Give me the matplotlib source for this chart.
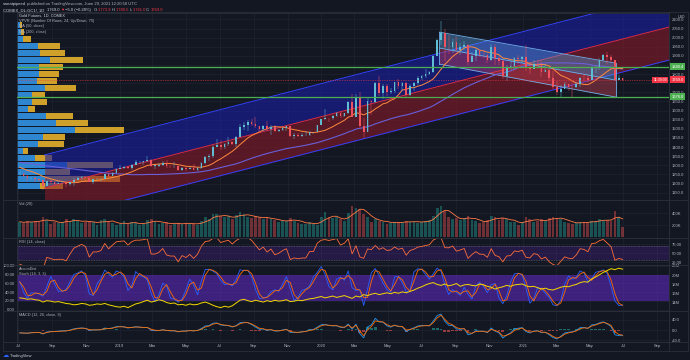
import numpy as np
import pandas as pd
import matplotlib
matplotlib.use("Agg")
import matplotlib.pyplot as plt
import matplotlib.dates as mdates
from matplotlib.patches import Rectangle
from matplotlib.lines import Line2D
from matplotlib.transforms import blended_transform_factory
from matplotlib.ticker import FuncFormatter

plt.rcParams['font.family'] = ['Liberation Sans', 'DejaVu Sans']

# ---------------- data ----------------
week_start = '2018-07-04'
first_open = 1253
warmup_close = [1322, 1338, 1333, 1350, 1337, 1315, 1356, 1330, 1323, 1324, 1313, 1349, 1327,
                1335, 1347, 1338, 1323, 1314, 1320, 1291, 1303, 1298, 1302, 1279, 1270, 1254]
close = [1255, 1241, 1231, 1232, 1223, 1219, 1184, 1213, 1206, 1200, 1201, 1201, 1196, 1207, 1222, 1229, 1236, 1233, 1210, 1223, 1223, 1226, 1252, 1241, 1258, 1282,
         1286, 1290, 1283, 1304, 1318, 1318, 1322, 1331, 1299, 1299, 1303, 1314, 1298, 1295, 1295, 1276, 1288, 1282, 1288, 1277, 1285, 1311, 1346, 1352, 1400, 1413,
         1400, 1416, 1428, 1419, 1457, 1509, 1523, 1537, 1529, 1515, 1499, 1515, 1497, 1512, 1488, 1494, 1505, 1513, 1462, 1468, 1463, 1465, 1465, 1481, 1481, 1519,
         1552, 1562, 1560, 1571, 1587, 1573, 1586, 1649, 1566, 1674, 1516, 1484, 1654, 1645, 1752, 1698, 1735, 1700, 1708, 1756, 1735, 1751, 1683, 1737, 1753, 1781,
         1790, 1801, 1810, 1897, 1986, 2028, 1949, 1947, 1975, 1934, 1947, 1962, 1866, 1900, 1930, 1906, 1905, 1879, 1951, 1886, 1872, 1788, 1840, 1843, 1888, 1883,
         1895, 1835, 1829, 1856, 1850, 1814, 1823, 1776, 1729, 1700, 1721, 1745, 1732, 1729, 1744, 1780, 1777, 1768, 1832, 1838, 1877, 1905, 1892, 1878, 1769, 1781, 1769]
high = [1263, 1262, 1245, 1238, 1236, 1224, 1222, 1216, 1218, 1210, 1212, 1212, 1208, 1209, 1233, 1234, 1243, 1240, 1242, 1226, 1232, 1231, 1253, 1256, 1265, 1285,
        1302, 1298, 1297, 1305, 1330, 1323, 1325, 1349, 1333, 1302, 1311, 1323, 1327, 1301, 1320, 1296, 1291, 1290, 1291, 1306, 1289, 1316, 1350, 1361, 1413, 1442,
        1440, 1422, 1453, 1433, 1460, 1525, 1535, 1547, 1555, 1566, 1514, 1522, 1542, 1519, 1519, 1499, 1511, 1518, 1515, 1475, 1477, 1475, 1489, 1486, 1485, 1520,
        1553, 1611, 1562, 1574, 1591, 1593, 1589, 1650, 1691, 1692, 1704, 1557, 1669, 1660, 1755, 1788, 1748, 1747, 1723, 1757, 1775, 1755, 1757, 1745, 1756, 1790,
        1797, 1828, 1818, 1906, 1992, 2089, 2050, 2015, 1990, 2001, 1973, 1983, 1963, 1921, 1935, 1933, 1933, 1910, 1965, 1965, 1900, 1875, 1848, 1877, 1896, 1907,
        1900, 1959, 1865, 1875, 1875, 1875, 1855, 1827, 1815, 1760, 1740, 1755, 1745, 1740, 1759, 1785, 1798, 1790, 1845, 1852, 1890, 1913, 1919, 1903, 1879, 1795, 1780]
low = [1241, 1237, 1212, 1221, 1211, 1208, 1167, 1184, 1199, 1191, 1196, 1196, 1183, 1187, 1187, 1218, 1221, 1214, 1208, 1196, 1218, 1213, 1224, 1238, 1239, 1256,
       1280, 1282, 1280, 1276, 1300, 1305, 1301, 1320, 1293, 1281, 1290, 1298, 1286, 1285, 1288, 1271, 1267, 1267, 1280, 1275, 1270, 1282, 1310, 1322, 1340, 1400,
       1384, 1392, 1405, 1414, 1400, 1456, 1494, 1490, 1518, 1505, 1485, 1490, 1486, 1465, 1482, 1480, 1487, 1486, 1456, 1445, 1458, 1454, 1460, 1462, 1473, 1481,
       1520, 1550, 1536, 1547, 1567, 1561, 1564, 1582, 1564, 1575, 1504, 1451, 1482, 1576, 1640, 1682, 1666, 1680, 1691, 1696, 1720, 1706, 1671, 1681, 1708, 1743,
       1767, 1778, 1795, 1806, 1900, 1961, 1874, 1911, 1914, 1921, 1906, 1932, 1851, 1871, 1874, 1893, 1890, 1859, 1870, 1848, 1851, 1775, 1764, 1820, 1824, 1855,
       1862, 1817, 1803, 1828, 1834, 1785, 1810, 1761, 1717, 1687, 1673, 1717, 1705, 1677, 1724, 1731, 1764, 1756, 1768, 1808, 1822, 1874, 1856, 1864, 1761, 1766, 1761]
volume_k = [260, 240, 270, 250, 280, 260, 330, 290, 230, 250, 240, 260, 300, 250, 310, 270, 240, 260, 280, 250, 200, 290, 300, 260, 240, 200,
            230, 270, 220, 250, 240, 200, 230, 290, 300, 250, 220, 240, 250, 210, 230, 240, 220, 240, 230, 220, 210, 280, 330, 300, 390, 380,
            350, 330, 360, 300, 370, 420, 380, 330, 320, 360, 330, 300, 330, 310, 290, 250, 270, 280, 320, 280, 240, 230, 220, 260, 220, 210,
            330, 420, 330, 320, 330, 300, 270, 400, 520, 480, 470, 380, 330, 250, 300, 280, 250, 230, 240, 260, 250, 240, 280, 260, 260, 240,
            260, 280, 290, 360, 480, 520, 430, 340, 300, 320, 290, 320, 360, 290, 270, 240, 260, 290, 350, 330, 290, 320, 300, 260, 260, 200,
            250, 340, 300, 260, 270, 300, 280, 320, 330, 320, 310, 260, 240, 230, 240, 260, 250, 240, 280, 270, 300, 280, 290, 280, 440, 330, 180]
accum_dist_m = [15.1, 15.0, 14.8, 14.9, 14.7, 14.6, 14.2, 14.5, 14.4, 14.2, 14.3, 14.1, 13.9, 13.8, 13.6, 13.7, 13.9, 13.8, 13.5, 13.6, 13.8, 13.7, 13.9, 13.6, 13.4, 13.2,
                13.1, 13.3, 13.0, 13.4, 13.8, 14.0, 14.3, 14.6, 14.2, 14.4, 14.7, 14.5, 14.1, 13.9, 14.0, 13.6, 13.7, 13.5, 13.8, 13.6, 13.7, 14.0, 14.2, 13.9, 13.5, 13.2,
                13.0, 13.3, 13.1, 13.4, 14.0, 14.6, 14.8, 14.5, 14.3, 14.6, 14.4, 14.2, 14.5, 14.3, 14.6, 14.4, 14.5, 14.7, 14.3, 14.4, 14.6, 14.5, 14.7, 14.9, 15.0, 15.2,
                15.4, 15.1, 15.3, 15.5, 15.2, 15.4, 15.6, 15.3, 15.0, 15.5, 15.3, 15.8, 15.6, 15.9, 16.1, 15.8, 16.0, 16.2, 16.0, 16.3, 16.1, 16.4, 16.2, 16.5, 16.8, 17.2,
                17.5, 17.9, 18.2, 18.4, 18.0, 17.8, 18.1, 17.7, 17.9, 18.2, 17.6, 17.9, 18.0, 17.8, 17.7, 18.1, 17.9, 17.6, 17.4, 17.0, 17.3, 17.5, 17.8, 17.6, 17.9, 18.0,
                18.1, 17.7, 17.5, 17.6, 17.3, 17.0, 17.2, 16.9, 16.8, 17.1, 17.4, 17.6, 17.5, 17.8, 18.0, 18.4, 18.6, 18.5, 19.2, 19.6, 20.1, 20.6, 21.0, 21.4, 21.2, 21.5, 21.3]

vp_range = [1167, 2089]
vp_up = [23, 28, 28, 50, 18, 6, 21, 26, 58, 39, 29, 11, 15, 15, 28, 20, 22, 22, 33, 23, 21, 6, 4, 3]
vp_down = [23, 75, 25, 46, 17, 5, 26, 22, 49, 32, 27, 7, 15, 13, 31, 20, 20, 24, 33, 25, 22, 8, 3, 2]

channel_dates = ['2018-08-18', '2021-09-22']
channel_mid = [1176, 2058]
channel_width = 181
small_dates = ['2020-08-02', '2021-06-18']
small_top = [2030, 1860]
small_mid = [1943, 1767]
small_bot = [1855, 1674]
support_levels = [1840.4, 1676.0]
last_price = 1769.0

price_ticks = list(range(1150, 2101, 50))
hidden_ticks = [1750, 1850]
month_ticks = [1, 3, 5, 7, 9, 11]
x_range = ['2018-06-29', '2021-09-22']

# ---------------- style ----------------
W, H = 690, 360
BG = '#131722'
TXT = '#b2b5be'
GRID = '#1f2330'
BORDER = '#2a2e39'
UP = '#5fbcd3'
DN = '#ef5360'

fig = plt.figure(figsize=(6.9, 3.6), dpi=100, facecolor=BG)


def axes_px(x0, y0, x1, y1):
    return fig.add_axes([x0 / W, 1 - y1 / H, (x1 - x0) / W, (y1 - y0) / H])


def ftext(x, y, s, **kw):
    kw.setdefault('color', TXT)
    kw.setdefault('fontsize', 2.8)
    kw.setdefault('va', 'center')
    kw.setdefault('ha', 'left')
    return fig.text(x / W, 1 - y / H, s, **kw)


xl = mdates.date2num(pd.to_datetime(x_range).to_pydatetime())


def month_fmt(v, pos):
    d = mdates.num2date(v)
    return str(d.year) if d.month == 1 else d.strftime('%b')


def style(ax, show_x=False):
    ax.set_facecolor(BG)
    for sp in ax.spines.values():
        sp.set_color(BORDER)
        sp.set_linewidth(0.6)
    ax.yaxis.tick_right()
    ax.tick_params(axis='both', length=0, labelsize=3.0, colors=TXT, pad=2)
    ax.set_xlim(xl[0], xl[1])
    ax.xaxis.set_major_locator(mdates.MonthLocator(bymonth=month_ticks))
    ax.xaxis.set_major_formatter(FuncFormatter(month_fmt))
    ax.grid(True, axis='both', color=GRID, lw=0.5)
    ax.set_axisbelow(True)
    if not show_x:
        ax.tick_params(axis='x', labelbottom=False)


main = axes_px(17, 13, 669, 200)
vol = axes_px(17, 200, 669, 238)
rsi_ax = axes_px(17, 238, 669, 265)
sto = axes_px(17, 265, 669, 311)
macd_ax = axes_px(17, 311, 669, 342)
for a in (main, vol, rsi_ax, sto):
    style(a)
style(macd_ax, show_x=True)
macd_ax.tick_params(axis='x', pad=1.5)

# ---------------- derived series ----------------
d = mdates.date2num(pd.date_range(week_start, periods=len(close), freq='7D').to_pydatetime())
c = np.array(close, float)
hi = np.array(high, float)
lo = np.array(low, float)
o = np.r_[first_open, c[:-1]]
nw = len(warmup_close)
s_ext = pd.Series(np.r_[warmup_close, c])
ma50 = s_ext.rolling(10, min_periods=1).mean().values[nw:]
ma200 = s_ext.rolling(40, min_periods=1).mean().values[nw:]

a12 = 1 - (1 - 2 / 13) ** 5
a26 = 1 - (1 - 2 / 27) ** 5
a9 = 1 - (1 - 2 / 10) ** 5
macd_line = s_ext.ewm(alpha=a12, adjust=False).mean() - s_ext.ewm(alpha=a26, adjust=False).mean()
signal = macd_line.ewm(alpha=a9, adjust=False).mean()
macd_v = macd_line.values[nw:]
sig_v = signal.values[nw:]
hist_v = macd_v - sig_v

delta = s_ext.diff()
ar = 0.2
gain = delta.clip(lower=0).ewm(alpha=ar, adjust=False).mean()
loss = (-delta.clip(upper=0)).ewm(alpha=ar, adjust=False).mean()
rsi_v = (100 - 100 / (1 + gain / loss)).values[nw:]

hh = pd.Series(hi).rolling(3, min_periods=1).max()
ll = pd.Series(lo).rolling(3, min_periods=1).min()
k_raw = (pd.Series(c) - ll) / (hh - ll) * 100
k_v = k_raw.rolling(2, min_periods=1).mean()
d_v = k_v.rolling(2, min_periods=1).mean()

v = np.array(volume_k, float)
v_ma = pd.Series(v).rolling(4, min_periods=1).mean().values

# ---------------- main panel ----------------
main.set_ylim(1110, 2135)
main.set_yticks(price_ticks)
main.yaxis.set_major_formatter(FuncFormatter(lambda val, p: '' if round(val) in hidden_ticks else f'{val:.1f}'))

# volume profile
trans_vp = blended_transform_factory(main.transAxes, main.transData)
edges = np.linspace(vp_range[0], vp_range[1], len(vp_up) + 1)
rowh = edges[1] - edges[0]
for i in range(len(vp_up)):
    y0 = edges[i] + rowh * 0.08
    hgt = rowh * 0.84
    main.add_patch(Rectangle((0, y0), vp_up[i] / 652, hgt, transform=trans_vp,
                             facecolor='#2d86cf', edgecolor='none', zorder=1))
    main.add_patch(Rectangle((vp_up[i] / 652, y0), vp_down[i] / 652, hgt, transform=trans_vp,
                             facecolor='#cfa12a', edgecolor='none', zorder=1))

# regression channel
cd = mdates.date2num(pd.to_datetime(channel_dates).to_pydatetime())
cm = np.array(channel_mid, float)
main.fill_between(cd, cm, cm + channel_width, color='#1a1fa0', alpha=0.62, lw=0, zorder=2)
main.fill_between(cd, cm - channel_width, cm, color='#8b1a2a', alpha=0.58, lw=0, zorder=2)
main.plot(cd, cm + channel_width, color='#3040ff', lw=0.7, zorder=2.5)
main.plot(cd, cm, color='#e0293a', lw=0.7, zorder=2.5)
main.plot(cd, cm - channel_width, color='#3040ff', lw=0.7, zorder=2.5)

# small descending channel
sd = mdates.date2num(pd.to_datetime(small_dates).to_pydatetime())
st, sm, sb = np.array(small_top, float), np.array(small_mid, float), np.array(small_bot, float)
main.fill_between(sd, sm, st, color='#5a9ee0', alpha=0.42, lw=0, zorder=3)
main.fill_between(sd, sb, sm, color='#d9455a', alpha=0.38, lw=0, zorder=3)
for arr in (st, sm, sb):
    main.plot(sd, arr, color='#6fb0ea', lw=0.6, zorder=3.5)
for j in (0, 1):
    main.plot([sd[j], sd[j]], [sb[j], st[j]], color='#6fb0ea', lw=0.6, zorder=3.5)

# moving averages
main.plot(d, ma200, color='#6a5fd8', lw=0.8, zorder=4)
main.plot(d, ma50, color='#ff8a3d', lw=0.7, zorder=4)

# candles
upm = c >= o
col = np.where(upm, UP, DN)
main.vlines(d, np.minimum(lo, np.minimum(o, c)), np.maximum(hi, np.maximum(o, c)), colors=col, lw=0.35, zorder=5)
main.bar(d, np.maximum(np.abs(c - o), 2.0), bottom=np.minimum(o, c), width=3.0, color=col, lw=0, zorder=5)

# horizontal levels
for lv in support_levels:
    main.axhline(lv, color='#4caf50', lw=0.9, zorder=6)
    main.text(1.004, lv, f'{lv:.1f}', transform=trans_vp, fontsize=2.9, color='white', va='center', ha='left',
              bbox=dict(boxstyle='square,pad=0.35', fc='#4caf50', ec='none'), zorder=10, clip_on=False)
main.axhline(last_price, color='#f23645', lw=0.5, ls=(0, (1, 1.5)), zorder=6)
main.text(1.004, last_price, f'{last_price:.1f}', transform=trans_vp, fontsize=2.9, color='white', va='center',
          ha='left', bbox=dict(boxstyle='square,pad=0.35', fc='#f23645', ec='none'), zorder=10, clip_on=False)
main.text(0.997, last_price, '11:39:09', transform=trans_vp, fontsize=2.6, color='white', va='center',
          ha='right', bbox=dict(boxstyle='square,pad=0.35', fc='#f23645', ec='none'), zorder=10)

# ---------------- volume ----------------
vol.set_ylim(-10, 620)
vol.set_yticks([200, 400])
vol.set_yticklabels(['200K', '400K'])
vol.bar(d, v, width=5, color=np.where(upm, '#26a69a', '#ef5350'), alpha=0.42, lw=0)
vol.plot(d, v_ma, color='#ff7a45', lw=0.6)

# ---------------- RSI ----------------
rsi_ax.set_ylim(16.7, 91.7)
rsi_ax.set_yticks([25, 50, 75])
rsi_ax.set_yticklabels(['25.00', '50.00', '75.00'])
rsi_ax.axhspan(30, 70, color='#6a2bd6', alpha=0.2, lw=0)
for lv in (30, 70):
    rsi_ax.axhline(lv, color='#787b86', lw=0.4, ls=(0, (1.5, 1.5)))
rsi_ax.plot(d, rsi_v, color='#ff6d3a', lw=0.6)

# ---------------- Stoch + AccumDist ----------------
sto.set_ylim(-3, 102)
sto.yaxis.tick_left()
sto.tick_params(axis='y', pad=1.5)
sto.set_yticks([0, 20, 40, 60, 80, 100])
sto.set_yticklabels(['0.00', '20.00', '40.00', '60.00', '80.00', '100.00'])
sto.axhspan(20, 80, color='#6a2bd6', alpha=0.5, lw=0)
sto.plot(d, k_v, color='#2962ff', lw=0.6)
sto.plot(d, d_v, color='#ff6d00', lw=0.6)
ad_ax = sto.twinx()
ad_ax.set_facecolor('none')
for sp in ad_ax.spines.values():
    sp.set_visible(False)
ad_ax.set_ylim(12.27, 22.2)
ad_ax.set_yticks([14, 16, 18, 20, 22])
ad_ax.set_yticklabels(['14M', '16M', '18M', '20M', '22M'])
ad_ax.tick_params(axis='y', length=0, labelsize=3.0, colors=TXT, pad=2)
ad_ax.set_xlim(xl[0], xl[1])
ad_ax.plot(d, accum_dist_m, color='#f5d800', lw=0.7)

# ---------------- MACD ----------------
macd_ax.set_ylim(-46.6, 73.8)
macd_ax.set_yticks([-40, 0, 40])
macd_ax.set_yticklabels(['-40.0', '0.0', '40.0'])
macd_ax.bar(d, hist_v, width=5, color=np.where(hist_v >= 0, '#26a69a', '#ef5350'), alpha=0.6, lw=0)
macd_ax.plot(d, macd_v, color='#2196f3', lw=0.6)
macd_ax.plot(d, sig_v, color='#ff6d00', lw=0.6)

# ---------------- frame & labels ----------------
frame_lines = [((3, 12), (688, 12)), ((3, 351), (688, 351)), ((3, 12), (3, 351)), ((688, 12), (688, 351)),
               ((669, 12), (669, 351))]
for (xa, ya), (xb, yb) in frame_lines:
    fig.add_artist(Line2D([xa / W, xb / W], [1 - ya / H, 1 - yb / H], color=BORDER, lw=0.6))
for yy in (200, 238, 265, 311, 342):
    fig.add_artist(Line2D([3 / W, 688 / W], [1 - yy / H, 1 - yy / H], color=BORDER, lw=0.6))

ftext(678, 16.5, 'USD', fontsize=2.6)

ftext(19, 15.7, 'Gold Futures, 1D, COMEX', color='#d1d4dc')
ftext(19, 21.3, 'VPVR (Number Of Rows, 24, Up/Down, 70)')
ftext(19, 26.5, 'MA (50, close)')
ftext(19, 31.5, 'MA (200, close)')
ftext(19, 204.5, 'Vol (20)')
ftext(19, 241.5, 'RSI (14, close)')
ftext(19, 269.5, 'AccumDist')
ftext(19, 274, 'Stoch (14, 3, 3)')
ftext(19, 315, 'MACD (12, 26, close, 9)')

# header
renderer = fig.canvas.get_renderer()


def chain(parts, x, y, size):
    for s, colr in parts:
        t = ftext(x, y, s, color=colr, fontsize=size)
        x += t.get_window_extent(renderer).width


chain([('sweatpipeed', '#d1d4dc'), (' published on TradingView.com, June 29, 2021 12:20:50 UTC', '#b2b5be')], 3, 4, 3.0)
red = '#f23645'
chain([('COMEX_DL:GC1!, 1D  ', '#d1d4dc'), ('1769.0 ', '#d1d4dc'), ('\u25bc', red), (' \u22125.0 (\u22120.28%)  ', '#d1d4dc'),
       ('O:', '#b2b5be'), ('1773.9 ', red), ('H:', '#b2b5be'), ('1780.5 ', red), ('L:', '#b2b5be'),
       ('1761.0 ', red), ('C:', '#b2b5be'), ('1769.0', red)], 3, 10, 3.0)

# footer
ftext(3, 355.5, '\u2601', color='#2962ff', fontsize=4.5, family=['DejaVu Sans'])
ftext(10, 355.5, 'TradingView', color='#d1d4dc', fontsize=3.0)

fig.savefig('out.png', dpi=100, facecolor=BG)
